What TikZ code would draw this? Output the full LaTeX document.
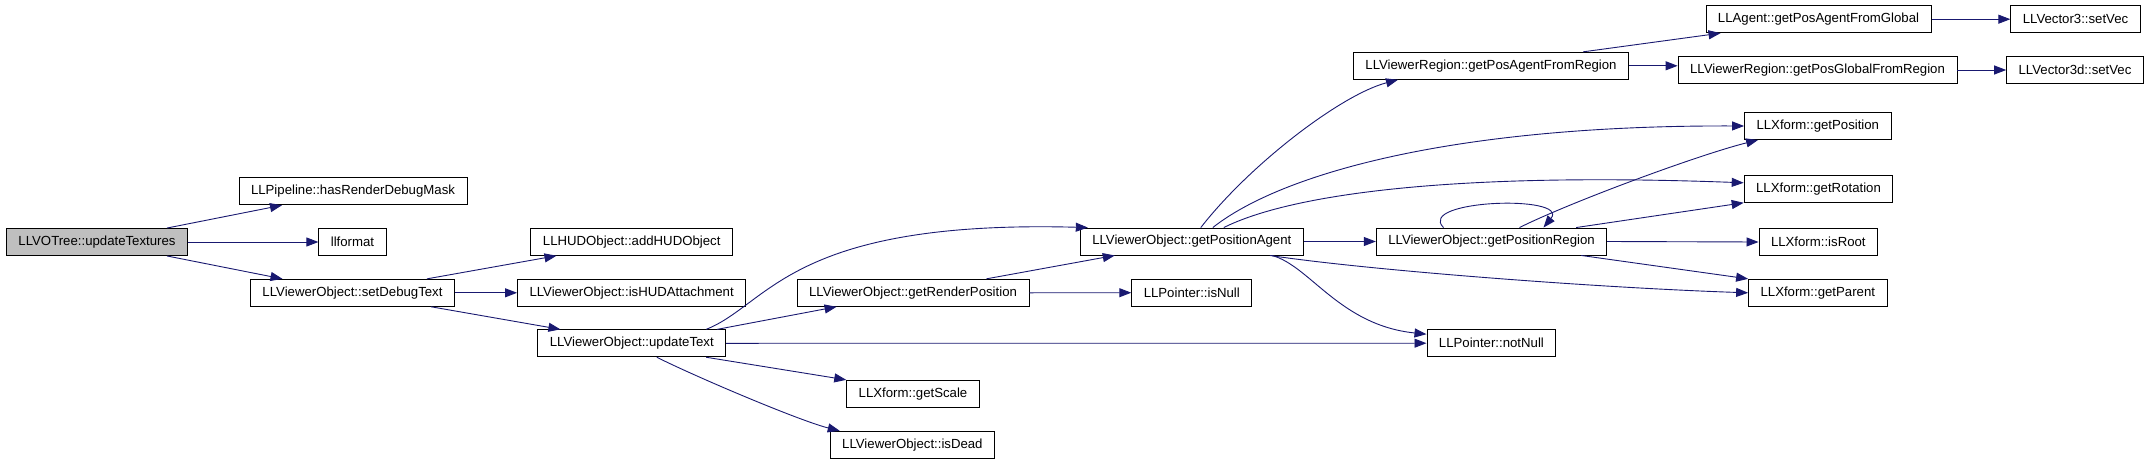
\documentclass[tikz,border=0pt]{standalone}
\usepackage{fontspec}
\setmainfont{Liberation Sans}
\usetikzlibrary{arrows.meta}
\definecolor{callblue}{RGB}{25,25,112}
\definecolor{rootgray}{RGB}{191,191,191}

\begin{document}
\begin{tikzpicture}[
    x=1pt, y=-1pt,
    func/.style={rectangle, draw=black, line width=0.9pt, fill=white,
                 minimum height=27pt, inner xsep=12pt, inner ysep=0pt,
                 font=\fontsize{13.2}{15}\selectfont},
    rootfunc/.style={func, fill=rootgray},
    call/.style={-{Triangle[length=12pt, width=9pt]}, line width=0.9pt, callblue},
]
  \useasboundingbox (0,0) rectangle (2149,463);

  % callers on the left
  \node[rootfunc] (upd)    at (97, 242)     {LLVOTree::updateTextures};
  \node[func]     (hrdm)   at (353, 191.3)  {LLPipeline::hasRenderDebugMask};
  \node[func]     (llf)    at (352.5, 242)  {llformat};
  \node[func]     (sdt)    at (352.5, 292.8) {LLViewerObject::setDebugText};

  \node[func]     (addhud) at (631.7, 241.8) {LLHUDObject::addHUDObject};
  \node[func]     (ishud)  at (631.6, 292.8) {LLViewerObject::isHUDAttachment};
  \node[func]     (updtxt) at (631.8, 343.3) {LLViewerObject::updateText};

  \node[func]     (grp)    at (913, 292.8)   {LLViewerObject::getRenderPosition};
  \node[func]     (gscale) at (913, 393.8)   {LLXform::getScale};
  \node[func]     (isdead) at (912.4, 444.8) {LLViewerObject::isDead};

  \node[func]     (gpa)    at (1191.8, 241.5) {LLViewerObject::getPositionAgent};
  \node[func]     (isnull) at (1191.8, 292.7) {LLPointer::isNull};

  \node[func]     (gpafr)  at (1491, 65.8)    {LLViewerRegion::getPosAgentFromRegion};
  \node[func]     (gpr)    at (1491.5, 241.5) {LLViewerObject::getPositionRegion};
  \node[func]     (notnull) at (1491.4, 343.2) {LLPointer::notNull};

  % callees on the right
  \node[func]     (gpafg)  at (1818.5, 19.2)  {LLAgent::getPosAgentFromGlobal};
  \node[func]     (gpgfr)  at (1817.5, 70)    {LLViewerRegion::getPosGlobalFromRegion};
  \node[func]     (getpos) at (1817.8, 126)   {LLXform::getPosition};
  \node[func]     (getrot) at (1818.5, 188.8) {LLXform::getRotation};
  \node[func]     (isroot) at (1818.3, 242)   {LLXform::isRoot};
  \node[func]     (getpar) at (1817.8, 292.8) {LLXform::getParent};

  \node[func]     (v3set)  at (2075.5, 19.2)  {LLVector3::setVec};
  \node[func]     (v3dset) at (2075, 70)      {LLVector3d::setVec};

  % calls
  \draw[call] ([xshift=-21pt]upd.north east) -- ([xshift=-71pt]hrdm.south);
  \draw[call] (upd.east) -- (llf.west);
  \draw[call] ([xshift=-21pt]upd.south east) -- ([xshift=-70pt]sdt.north);

  \draw[call] ([xshift=-28pt]sdt.north east) -- ([xshift=26pt]addhud.south west);
  \draw[call] (sdt.east) -- (ishud.west);
  \draw[call] ([xshift=-24pt]sdt.south east) -- ([xshift=23pt]updtxt.north west);

  \draw[call] ([xshift=-20pt]updtxt.north east)
    .. controls +(63,-25) and +(-298,-8) .. ([xshift=8pt]gpa.north west);
  \draw[call] ([xshift=-9pt]updtxt.north east) -- ([xshift=40pt]grp.south west);
  \draw[call] (updtxt.east) -- (notnull.west);
  \draw[call] ([xshift=-20pt]updtxt.south east) -- (gscale.north west);
  \draw[call] ([xshift=25pt]updtxt.south)
    .. controls +(40,20) and +(-40,-10) .. ([xshift=10pt]isdead.north west);

  \draw[call] ([xshift=-43pt]grp.north east) -- ([xshift=35pt]gpa.south west);
  \draw[call] (grp.east) -- (isnull.west);

  \draw[call] ([xshift=9pt]gpa.north)
    .. controls +(49,-63) and +(-57,15) .. ([xshift=45pt]gpafr.south west);
  \draw[call] ([xshift=21pt]gpa.north)
    .. controls +(67,-53) and +(-294,-1) .. (getpos.west);
  \draw[call] ([xshift=32pt]gpa.north)
    .. controls +(66,-33) and +(-294,-11) .. ([yshift=6pt]getrot.west);
  \draw[call] (gpa.east) -- (gpr.west);
  \draw[call] ([xshift=-34pt]gpa.south east)
    .. controls +(100,15) and +(-150,-5) .. (getpar.west);
  \draw[call] ([xshift=-32pt]gpa.south east)
    .. controls +(38,10) and +(-87,-9) .. ([yshift=9pt]notnull.west);

  \draw[call] ([xshift=-48pt]gpr.north)
    .. controls +(-28,-28) and +(27,-33) .. ([xshift=52pt]gpr.north);
  \draw[call] ([xshift=28pt]gpr.north)
    .. controls +(50,-25) and +(-60,15) .. ([xshift=14pt]getpos.south west);
  \draw[call] ([xshift=-31pt]gpr.north east) -- (getrot.south west);
  \draw[call] (gpr.east) -- (isroot.west);
  \draw[call] ([xshift=-26pt]gpr.south east) -- (getpar.north west);

  \draw[call] ([xshift=-46pt]gpafr.north east) -- ([xshift=15pt]gpafg.south west);
  \draw[call] (gpafr.east) -- (gpafr.east -| gpgfr.west);
  \draw[call] (gpafg.east) -- (v3set.west);
  \draw[call] (gpgfr.east) -- (v3dset.west);

\end{tikzpicture}
\end{document}
